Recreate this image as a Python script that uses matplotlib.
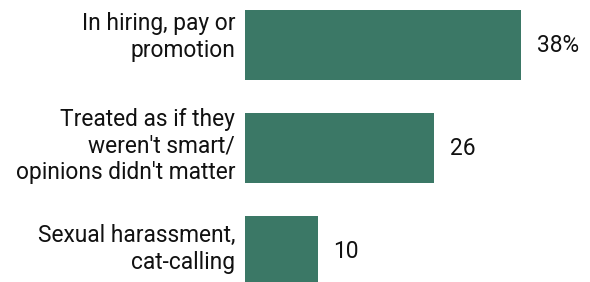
import matplotlib
matplotlib.use("Agg")
import matplotlib.pyplot as plt

categories = ["In hiring, pay or\npromotion",
              "Treated as if they\nweren't smart/\nopinions didn't matter",
              "Sexual harassment,\ncat-calling"]
values = [38, 26, 10]
value_labels = ["38%", "26", "10"]

plt.rcParams['font.family'] = ['Roboto', 'DejaVu Sans']

fig = plt.figure(figsize=(5.90, 2.82), dpi=100)
ax = fig.add_axes([245 / 590, 0, 345 / 590, 1])

pos = list(range(len(values)))
ax.barh(pos, values, height=0.68, color='#3b7866')

ax.set_xlim(0, 345 / 7.26)
ax.set_ylim(2.30, -0.437)
ax.set_xticks([])
ax.set_yticks([])
for s in ax.spines.values():
    s.set_visible(False)

# category labels, nudged up a bit like the original
label_shift = [8, 2, 2]  # pixels
for p, cat, dy in zip(pos, categories, label_shift):
    ax.annotate(cat, (0, p), xytext=(-10, dy), textcoords='offset pixels',
                ha='right', va='center', multialignment='right',
                fontsize=16.4, color='#111111', linespacing=1.2,
                annotation_clip=False)

for p, v, lab in zip(pos, values, value_labels):
    ax.annotate(lab, (v, p), xytext=(16, 0), textcoords='offset pixels',
                va='center', ha='left', fontsize=16.4, color='#111111')

fig.savefig('out.png', dpi=100)
